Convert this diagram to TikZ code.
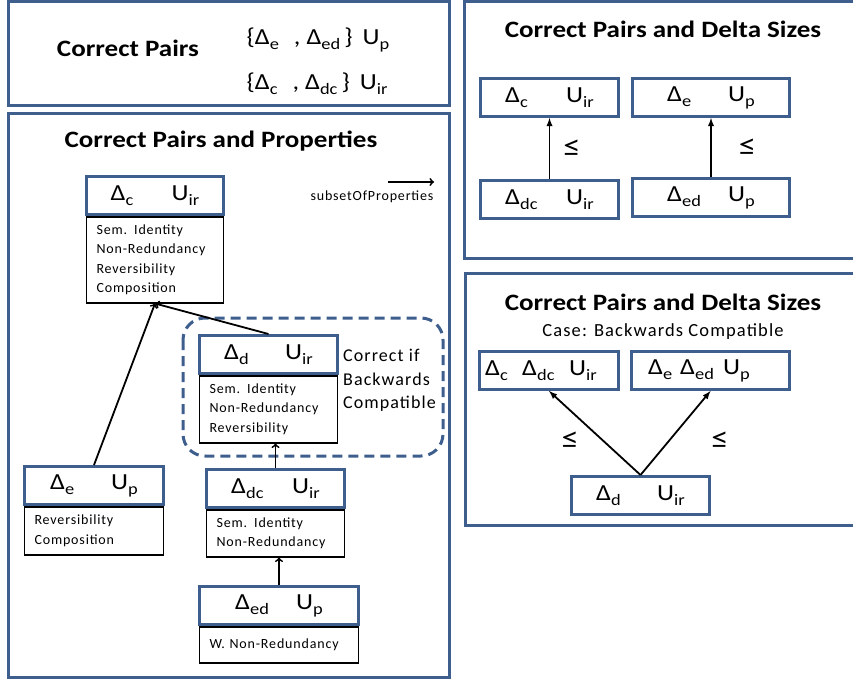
\documentclass[tikz,border=0pt]{standalone}
\usepackage{fontspec}
\setmainfont[FakeStretch=1.15]{Carlito}
\newfontfamily\propfont[LetterSpace=6]{Carlito}
\usepackage{xcolor}
\usetikzlibrary{positioning}
\usetikzlibrary{arrows}
\definecolor{panelblue}{RGB}{62,95,142}
\newcommand{\lowidx}[1]{\raisebox{-5pt}{\fontsize{16}{16}\selectfont #1}}
\newcommand{\pairtext}[2]{\makebox[61pt][l]{#1}#2}
\tikzstyle{panel} = [draw=panelblue,line width=3pt]
\tikzstyle{pairhead} = [draw=panelblue,line width=3pt,fill=white,minimum height=38pt,inner sep=0pt,anchor=north west,font=\fontsize{23}{25}\selectfont]
\tikzstyle{proplist} = [draw=black,line width=1.5pt,align=left,inner xsep=10pt,inner ysep=4pt,font=\propfont\fontsize{14}{19.5}\selectfont]
\tikzstyle{title} = [anchor=base,font=\bfseries\fontsize{23.5}{26}\selectfont]
\tikzstyle{subarrow} = [line width=1.8pt,->,>=to]
\tikzstyle{sizearrow} = [line width=1.8pt,-latex]
\tikzstyle{leq} = [inner sep=0pt,font=\fontsize{30}{30}\selectfont]

\begin{document}
\begin{tikzpicture}[x=1pt,y=-1pt]
  \useasboundingbox (0,0) rectangle (853,682);
  % panels
  \draw[panel] (8,2) rectangle (449,106);
  \draw[panel] (8,114) rectangle (449,677);
  \draw[panel] (853,2) -- (464,2) -- (464,258) -- (853,258);
  \draw[panel] (853,273) -- (465,273) -- (465,525) -- (853,525);

  % correct pairs
  \node[title] (pairstitle) at (128,57) {Correct Pairs};
  \node[anchor=base west,font=\fontsize{23}{25}\selectfont] (pairsep) at (243,45)
    {\{Δ\lowidx{e}\hspace{15pt}, Δ\lowidx{ed}\hspace{4pt}\}\hspace{10pt}U\lowidx{p}};
  \node[anchor=base west,font=\fontsize{23}{25}\selectfont] (pairscir) at (243,90)
    {\{Δ\lowidx{c}\hspace{15pt}, Δ\lowidx{dc}\hspace{4pt}\}\hspace{10pt}U\lowidx{ir}};

  % correct pairs and properties
  \node[title] (proptitle) at (221,147) {Correct Pairs and Properties};
  \node[anchor=base west,font=\propfont\fontsize{14}{16}\selectfont] (legtext) at (307,200) {subsetOfProperties};
  \coordinate (legfrom) at (388,182);
  \coordinate (legto) at (434,182);
  \draw[subarrow] (legfrom) -- (legto);

  \node[pairhead,minimum width=137pt] (chead) at (85,175) {\pairtext{Δ\lowidx{c}}{U\lowidx{ir}}};
  \node[proplist,text width=117pt,minimum height=86pt,below=0pt of chead] (cprops)
    {Sem. Identity\\Non-Redundancy\\Reversibility\\Composition};

  \draw[panelblue,line width=3pt,dash pattern=on 10pt off 6pt,rounded corners=22pt] (183,318) rectangle (443,456);
  \node[pairhead,minimum width=138pt] (dhead) at (198,334) {\pairtext{Δ\lowidx{d}}{U\lowidx{ir}}};
  \node[proplist,text width=118pt,minimum height=67pt,below=0pt of dhead] (dprops)
    {Sem. Identity\\Non-Redundancy\\Reversibility};
  \node[anchor=north west,align=left,inner sep=0pt,font=\propfont\fontsize{18}{23.5}\selectfont] (bcnote) at (343,349)
    {Correct if\\Backwards\\Compatible};

  \node[pairhead,minimum width=139pt] (ehead) at (23,465) {\pairtext{Δ\lowidx{e}}{U\lowidx{p}}};
  \node[proplist,text width=119pt,minimum height=48pt,below=0pt of ehead] (eprops)
    {Reversibility\\Composition};
  \node[pairhead,minimum width=138pt] (dchead) at (205,468) {\pairtext{Δ\lowidx{dc}}{U\lowidx{ir}}};
  \node[proplist,text width=118pt,minimum height=47pt,below=0pt of dchead] (dcprops)
    {Sem. Identity\\Non-Redundancy};
  \node[pairhead,minimum width=159pt] (edhead) at (198,585) {\pairtext{Δ\lowidx{ed}}{U\lowidx{p}}};
  \node[proplist,text width=139pt,minimum height=36pt,below=0pt of edhead] (edprops)
    {W. Non-Redundancy};

  \draw[subarrow] (ehead.north) -- (cprops.south);
  \draw[subarrow] (dhead.north) -- (cprops.south);
  \draw[subarrow] (dchead.north) -- (dchead.north |- dprops.south);
  \draw[subarrow] (edhead.north) -- (edhead.north |- dcprops.south);

  % correct pairs and delta sizes
  \node[title] (sizetitle) at (663,38) {Correct Pairs and Delta Sizes};
  \node[pairhead,minimum width=138pt] (rc) at (479,77) {\pairtext{Δ\lowidx{c}}{U\lowidx{ir}}};
  \node[pairhead,minimum width=157pt] (re) at (631,77) {\pairtext{Δ\lowidx{e}}{U\lowidx{p}}};
  \node[pairhead,minimum width=138pt] (rdc) at (479,179) {\pairtext{Δ\lowidx{dc}}{U\lowidx{ir}}};
  \node[pairhead,minimum width=157pt] (red) at (631,177) {\pairtext{Δ\lowidx{ed}}{U\lowidx{p}}};
  \draw[sizearrow] (rdc) -- node[leq,right=13pt] {≤} (rc);
  \draw[sizearrow] (red) -- node[leq,right=27pt] {≤} (re);

  % backwards compatible case
  \node[title] (bctitle) at (663,310) {Correct Pairs and Delta Sizes};
  \node[anchor=base,font=\propfont\fontsize{18.5}{20}\selectfont] (bcsub) at (663,336) {Case: Backwards Compatible};
  \node[pairhead,minimum width=139pt] (bcdc) at (478,350)
    {\makebox[37pt][l]{Δ\lowidx{c}}\makebox[47pt][l]{Δ\lowidx{dc}}U\lowidx{ir}\kern16pt};
  \node[pairhead,minimum width=158pt] (beed) at (630,350)
    {\makebox[32pt][l]{Δ\lowidx{e}}\makebox[43pt][l]{Δ\lowidx{ed}}U\lowidx{p}\kern23pt};
  \node[pairhead,minimum width=138pt] (bd) at (570,475) {\pairtext{Δ\lowidx{d}}{U\lowidx{ir}}};
  \draw[sizearrow] (bd.north) -- node[leq,left=15pt,yshift=-7pt] {≤} (bcdc.south);
  \draw[sizearrow] (bd.north) -- node[leq,right=35pt,yshift=-7pt] {≤} (beed.south);
\end{tikzpicture}
\end{document}
